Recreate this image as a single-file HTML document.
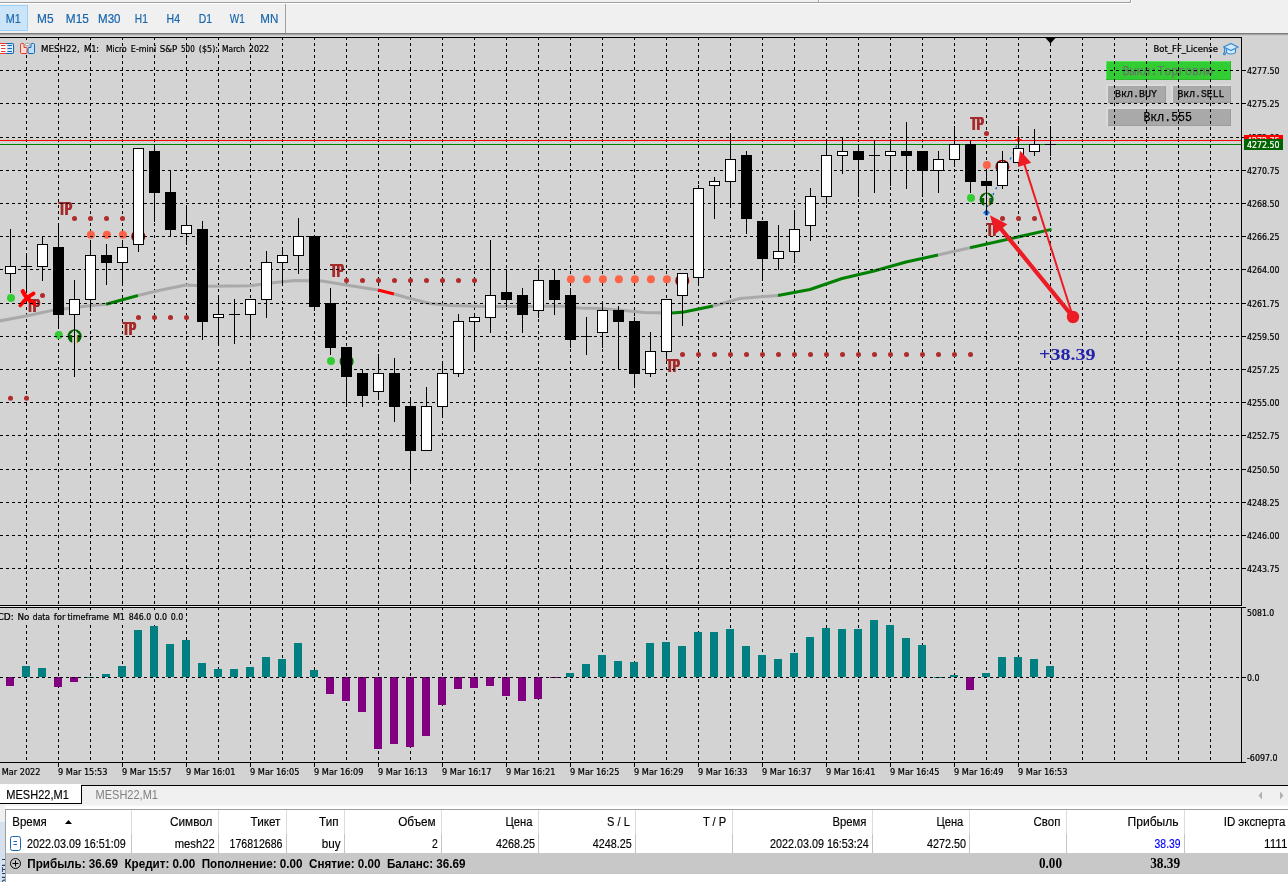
<!DOCTYPE html>
<html lang="ru">
<head>
<meta charset="utf-8">
<title>MESH22, M1</title>
<style>html,body{margin:0;padding:0;background:#fff;overflow:hidden}body{width:1288px;height:882px;font-family:"Liberation Sans",sans-serif}svg{display:block;position:absolute;left:0;top:0}</style>
</head>
<body>
<svg width="1288" height="882" viewBox="0 0 1288 882">
<defs>
<clipPath id="cm"><rect x="0" y="38" width="1241" height="567"/></clipPath>
<clipPath id="cs"><rect x="0" y="608" width="1241" height="154"/></clipPath>
<clipPath id="cl"><rect x="0" y="822" width="5" height="60"/></clipPath>
<g id="ci"><circle r="7" fill="#006400"/><path d="M0,-6.6 L5,-1.4 L2.4,-1.4 L2.4,7 L-2.4,7 L-2.4,-1.4 L-5,-1.4 Z" fill="#d3d3d3"/><path d="M2.4,-1.4 L2.4,7" stroke="#e8a33d" stroke-width="0.8" fill="none"/></g>
<g id="cr"><circle r="7" fill="#8b0000"/><path d="M0,-6.6 L5,-1.4 L2.4,-1.4 L2.4,7 L-2.4,7 L-2.4,-1.4 L-5,-1.4 Z" fill="#e8e8f0"/></g>
</defs>
<rect x="0" y="0" width="1288" height="38" fill="#f0f0f0"/>
<rect x="0" y="2" width="1131" height="1" fill="#a0a0a0"/>
<rect x="0" y="3" width="1132" height="1" fill="#ffffff"/>
<rect x="818" y="0" width="1" height="3" fill="#a0a0a0"/>
<rect x="819" y="0" width="1" height="2" fill="#ffffff"/>
<rect x="1130" y="0" width="1" height="3" fill="#a0a0a0"/>
<rect x="1131" y="0" width="1" height="3" fill="#ffffff"/>
<rect x="0" y="5" width="28" height="26" fill="#cce4f7"/>
<rect x="-0.5" y="5.5" width="28" height="25" fill="none" stroke="#99d1ff" stroke-width="1"/>
<text x="13.3" y="23.2" font-family='"Liberation Sans", sans-serif' font-size="12.7" fill="#1766ad" text-anchor="middle" textLength="15" lengthAdjust="spacingAndGlyphs" xml:space="preserve" stroke="#1766ad" stroke-width="0.2">M1</text>
<text x="45.3" y="23.2" font-family='"Liberation Sans", sans-serif' font-size="12.7" fill="#1766ad" text-anchor="middle" textLength="16.5" lengthAdjust="spacingAndGlyphs" xml:space="preserve" stroke="#1766ad" stroke-width="0.2">M5</text>
<text x="77.3" y="23.2" font-family='"Liberation Sans", sans-serif' font-size="12.7" fill="#1766ad" text-anchor="middle" textLength="23" lengthAdjust="spacingAndGlyphs" xml:space="preserve" stroke="#1766ad" stroke-width="0.2">M15</text>
<text x="109.3" y="23.2" font-family='"Liberation Sans", sans-serif' font-size="12.7" fill="#1766ad" text-anchor="middle" textLength="22.5" lengthAdjust="spacingAndGlyphs" xml:space="preserve" stroke="#1766ad" stroke-width="0.2">M30</text>
<text x="141.3" y="23.2" font-family='"Liberation Sans", sans-serif' font-size="12.7" fill="#1766ad" text-anchor="middle" textLength="13" lengthAdjust="spacingAndGlyphs" xml:space="preserve" stroke="#1766ad" stroke-width="0.2">H1</text>
<text x="173.3" y="23.2" font-family='"Liberation Sans", sans-serif' font-size="12.7" fill="#1766ad" text-anchor="middle" textLength="13.5" lengthAdjust="spacingAndGlyphs" xml:space="preserve" stroke="#1766ad" stroke-width="0.2">H4</text>
<text x="205.3" y="23.2" font-family='"Liberation Sans", sans-serif' font-size="12.7" fill="#1766ad" text-anchor="middle" textLength="13.3" lengthAdjust="spacingAndGlyphs" xml:space="preserve" stroke="#1766ad" stroke-width="0.2">D1</text>
<text x="237.3" y="23.2" font-family='"Liberation Sans", sans-serif' font-size="12.7" fill="#1766ad" text-anchor="middle" textLength="15" lengthAdjust="spacingAndGlyphs" xml:space="preserve" stroke="#1766ad" stroke-width="0.2">W1</text>
<text x="269.3" y="23.2" font-family='"Liberation Sans", sans-serif' font-size="12.7" fill="#1766ad" text-anchor="middle" textLength="18" lengthAdjust="spacingAndGlyphs" xml:space="preserve" stroke="#1766ad" stroke-width="0.2">MN</text>
<rect x="285" y="4" width="1" height="29" fill="#a0a0a0"/>
<rect x="0" y="33" width="1288" height="1" fill="#7a7a7a"/>
<rect x="0" y="34" width="1288" height="1" fill="#a8a8a8"/>
<rect x="0" y="35" width="1288" height="1" fill="#c8c8c8"/>
<rect x="0" y="36" width="1288" height="1" fill="#d8d8d8"/>
<rect x="0" y="37" width="1288" height="748" fill="#d3d3d3"/>
<g clip-path="url(#cm)">
<rect x="1106" y="61" width="125" height="19" fill="#32cd32"/>
<rect x="1106" y="61" width="125" height="1" fill="#55e055"/>
<rect x="1106" y="61" width="1" height="19" fill="#55e055"/>
<rect x="1106" y="79" width="125" height="1" fill="#2db82d"/>
<rect x="1230" y="61" width="1" height="19" fill="#2db82d"/>
<text x="1167.7" y="75.282" font-family='"Liberation Mono", monospace' font-size="12.4" fill="#667a66" text-anchor="middle" textLength="90.5" lengthAdjust="spacingAndGlyphs" xml:space="preserve" stroke="#667a66" stroke-width="0.25">Выкл:Торговлю</text>
<rect x="1106" y="84" width="60" height="19" fill="#dadada"/>
<rect x="1108" y="86" width="58" height="17" fill="#9c9c9c"/>
<rect x="1108" y="86" width="57" height="16" fill="#a9a9a9"/>
<text x="1136.0" y="96.916" font-family='"Liberation Mono", monospace' font-size="11.2" fill="#000" text-anchor="middle" textLength="42" lengthAdjust="spacingAndGlyphs" xml:space="preserve" stroke="#000" stroke-width="0.25">Вкл.BUY</text>
<rect x="1171" y="84" width="60" height="19" fill="#dadada"/>
<rect x="1173" y="86" width="58" height="17" fill="#9c9c9c"/>
<rect x="1173" y="86" width="57" height="16" fill="#a9a9a9"/>
<text x="1201.0" y="96.916" font-family='"Liberation Mono", monospace' font-size="11.2" fill="#000" text-anchor="middle" textLength="47" lengthAdjust="spacingAndGlyphs" xml:space="preserve" stroke="#000" stroke-width="0.25">Вкл.SELL</text>
<rect x="1106" y="107" width="125" height="19" fill="#dadada"/>
<rect x="1108" y="109" width="123" height="17" fill="#9c9c9c"/>
<rect x="1108" y="109" width="122" height="16" fill="#a9a9a9"/>
<text x="1167.7" y="120.826" font-family='"Liberation Mono", monospace' font-size="13.2" fill="#000" text-anchor="middle" textLength="48.5" lengthAdjust="spacingAndGlyphs" xml:space="preserve" stroke="#000" stroke-width="0.25">Вкл.555</text>
</g>
<g shape-rendering="crispEdges" stroke="#000" stroke-width="1" stroke-dasharray="3 3" fill="none">
<line x1="26.5" y1="37" x2="26.5" y2="605"/>
<line x1="26.5" y1="607" x2="26.5" y2="762"/>
<line x1="58.5" y1="37" x2="58.5" y2="605"/>
<line x1="58.5" y1="607" x2="58.5" y2="762"/>
<line x1="90.5" y1="37" x2="90.5" y2="605"/>
<line x1="90.5" y1="607" x2="90.5" y2="762"/>
<line x1="122.5" y1="37" x2="122.5" y2="605"/>
<line x1="122.5" y1="607" x2="122.5" y2="762"/>
<line x1="154.5" y1="37" x2="154.5" y2="605"/>
<line x1="154.5" y1="607" x2="154.5" y2="762"/>
<line x1="186.5" y1="37" x2="186.5" y2="605"/>
<line x1="186.5" y1="607" x2="186.5" y2="762"/>
<line x1="218.5" y1="37" x2="218.5" y2="605"/>
<line x1="218.5" y1="607" x2="218.5" y2="762"/>
<line x1="250.5" y1="37" x2="250.5" y2="605"/>
<line x1="250.5" y1="607" x2="250.5" y2="762"/>
<line x1="282.5" y1="37" x2="282.5" y2="605"/>
<line x1="282.5" y1="607" x2="282.5" y2="762"/>
<line x1="314.5" y1="37" x2="314.5" y2="605"/>
<line x1="314.5" y1="607" x2="314.5" y2="762"/>
<line x1="346.5" y1="37" x2="346.5" y2="605"/>
<line x1="346.5" y1="607" x2="346.5" y2="762"/>
<line x1="378.5" y1="37" x2="378.5" y2="605"/>
<line x1="378.5" y1="607" x2="378.5" y2="762"/>
<line x1="410.5" y1="37" x2="410.5" y2="605"/>
<line x1="410.5" y1="607" x2="410.5" y2="762"/>
<line x1="442.5" y1="37" x2="442.5" y2="605"/>
<line x1="442.5" y1="607" x2="442.5" y2="762"/>
<line x1="474.5" y1="37" x2="474.5" y2="605"/>
<line x1="474.5" y1="607" x2="474.5" y2="762"/>
<line x1="506.5" y1="37" x2="506.5" y2="605"/>
<line x1="506.5" y1="607" x2="506.5" y2="762"/>
<line x1="538.5" y1="37" x2="538.5" y2="605"/>
<line x1="538.5" y1="607" x2="538.5" y2="762"/>
<line x1="570.5" y1="37" x2="570.5" y2="605"/>
<line x1="570.5" y1="607" x2="570.5" y2="762"/>
<line x1="602.5" y1="37" x2="602.5" y2="605"/>
<line x1="602.5" y1="607" x2="602.5" y2="762"/>
<line x1="634.5" y1="37" x2="634.5" y2="605"/>
<line x1="634.5" y1="607" x2="634.5" y2="762"/>
<line x1="666.5" y1="37" x2="666.5" y2="605"/>
<line x1="666.5" y1="607" x2="666.5" y2="762"/>
<line x1="698.5" y1="37" x2="698.5" y2="605"/>
<line x1="698.5" y1="607" x2="698.5" y2="762"/>
<line x1="730.5" y1="37" x2="730.5" y2="605"/>
<line x1="730.5" y1="607" x2="730.5" y2="762"/>
<line x1="762.5" y1="37" x2="762.5" y2="605"/>
<line x1="762.5" y1="607" x2="762.5" y2="762"/>
<line x1="794.5" y1="37" x2="794.5" y2="605"/>
<line x1="794.5" y1="607" x2="794.5" y2="762"/>
<line x1="826.5" y1="37" x2="826.5" y2="605"/>
<line x1="826.5" y1="607" x2="826.5" y2="762"/>
<line x1="858.5" y1="37" x2="858.5" y2="605"/>
<line x1="858.5" y1="607" x2="858.5" y2="762"/>
<line x1="890.5" y1="37" x2="890.5" y2="605"/>
<line x1="890.5" y1="607" x2="890.5" y2="762"/>
<line x1="922.5" y1="37" x2="922.5" y2="605"/>
<line x1="922.5" y1="607" x2="922.5" y2="762"/>
<line x1="954.5" y1="37" x2="954.5" y2="605"/>
<line x1="954.5" y1="607" x2="954.5" y2="762"/>
<line x1="986.5" y1="37" x2="986.5" y2="605"/>
<line x1="986.5" y1="607" x2="986.5" y2="762"/>
<line x1="1018.5" y1="37" x2="1018.5" y2="605"/>
<line x1="1018.5" y1="607" x2="1018.5" y2="762"/>
<line x1="1050.5" y1="37" x2="1050.5" y2="605"/>
<line x1="1050.5" y1="607" x2="1050.5" y2="762"/>
<line x1="1082.5" y1="37" x2="1082.5" y2="605"/>
<line x1="1082.5" y1="607" x2="1082.5" y2="762"/>
<line x1="1114.5" y1="37" x2="1114.5" y2="605"/>
<line x1="1114.5" y1="607" x2="1114.5" y2="762"/>
<line x1="1146.5" y1="37" x2="1146.5" y2="605"/>
<line x1="1146.5" y1="607" x2="1146.5" y2="762"/>
<line x1="1178.5" y1="37" x2="1178.5" y2="605"/>
<line x1="1178.5" y1="607" x2="1178.5" y2="762"/>
<line x1="1210.5" y1="37" x2="1210.5" y2="605"/>
<line x1="1210.5" y1="607" x2="1210.5" y2="762"/>
</g>
<g clip-path="url(#cm)" fill="none" stroke-width="3" stroke-linecap="butt" stroke-linejoin="round">
<polyline points="-6,322 26,316 52.5,310.4 85,306.2 106,304.3" stroke="#a9a9a9"/>
<polyline points="106,304.3 138,295.5" stroke="#008000"/>
<polyline points="138,295.5 161,290 186,285 210,286.2 250,285.7 275,282.5 295,280.5 322,281 346,285 378,290" stroke="#a9a9a9"/>
<polyline points="378,290 394,294" stroke="#ff0000"/>
<polyline points="394,294 410,298.5 430,303.5 450,305.5 490,306.5 530,306.5 560,306 580,308 600,308.5 620,310 644,312.5 672,313" stroke="#a9a9a9"/>
<polyline points="672,313 684,312 713,306" stroke="#008000"/>
<polyline points="713,306 740,298.5 778,295.5" stroke="#a9a9a9"/>
<polyline points="778,295.5 810,289.5 842,278.5 874,271 906,262 938,255" stroke="#008000"/>
<polyline points="938,255 970,247.75" stroke="#a9a9a9"/>
<polyline points="970,247.75 1051.5,229.4" stroke="#008000"/>
</g>
<g clip-path="url(#cm)">
<circle cx="10.5" cy="398.3" r="2.5" fill="#b22a2a"/>
<circle cx="26.5" cy="398.3" r="2.5" fill="#b22a2a"/>
<circle cx="11" cy="298" r="4" fill="#32cd32"/>
<text x="26.849999999999994" y="312.4" font-family='"Liberation Sans", sans-serif' font-size="17.8" fill="#a52a2a" font-weight="bold" textLength="13.1" lengthAdjust="spacingAndGlyphs" xml:space="preserve" id="tp1">TP</text>
<use href="#tp1" x="-0.65"/><use href="#tp1" x="0.65"/>
<circle cx="42.5" cy="295.4" r="2.5" fill="#b22a2a"/>
<path d="M22.8,291.3 C25,296 29,300.500 34.2,303.7" stroke="#ff0000" stroke-width="4.3" stroke-linecap="round" fill="none"/><path d="M33.6,293.5 C29,296 24.500,300 20.3,305.5" stroke="#ff0000" stroke-width="3.7" stroke-linecap="round" fill="none"/>
<circle cx="58.8" cy="335" r="4" fill="#32cd32"/>
<use href="#ci" x="74.6" y="336.3"/>
<text x="58.849999999999994" y="214.9" font-family='"Liberation Sans", sans-serif' font-size="17.8" fill="#a52a2a" font-weight="bold" textLength="13.1" lengthAdjust="spacingAndGlyphs" xml:space="preserve" id="tp2">TP</text>
<use href="#tp2" x="-0.65"/><use href="#tp2" x="0.65"/>
<circle cx="74.5" cy="218.4" r="2.5" fill="#b22a2a"/>
<circle cx="90.5" cy="218.4" r="2.5" fill="#b22a2a"/>
<circle cx="106.5" cy="218.4" r="2.5" fill="#b22a2a"/>
<circle cx="122.5" cy="218.4" r="2.5" fill="#b22a2a"/>
<circle cx="90.9" cy="234.8" r="4" fill="#ff6347"/>
<circle cx="106.9" cy="234.8" r="4" fill="#ff6347"/>
<circle cx="122.9" cy="234.8" r="4" fill="#ff6347"/>
<use href="#cr" x="138.3" y="236.4"/>
<text x="122.85000000000002" y="334.5" font-family='"Liberation Sans", sans-serif' font-size="17.8" fill="#a52a2a" font-weight="bold" textLength="13.1" lengthAdjust="spacingAndGlyphs" xml:space="preserve" id="tp3">TP</text>
<use href="#tp3" x="-0.65"/><use href="#tp3" x="0.65"/>
<circle cx="138.5" cy="317.5" r="2.5" fill="#b22a2a"/>
<circle cx="154.5" cy="317.5" r="2.5" fill="#b22a2a"/>
<circle cx="170.5" cy="317.5" r="2.5" fill="#b22a2a"/>
<circle cx="186.5" cy="317.5" r="2.5" fill="#b22a2a"/>
<circle cx="331" cy="361" r="4" fill="#32cd32"/>
<use href="#ci" x="346.6" y="361.5"/>
<text x="330.54999999999995" y="277.0" font-family='"Liberation Sans", sans-serif' font-size="17.8" fill="#a52a2a" font-weight="bold" textLength="13.1" lengthAdjust="spacingAndGlyphs" xml:space="preserve" id="tp4">TP</text>
<use href="#tp4" x="-0.65"/><use href="#tp4" x="0.65"/>
<circle cx="346.5" cy="280.5" r="2.5" fill="#b22a2a"/>
<circle cx="362.5" cy="280.5" r="2.5" fill="#b22a2a"/>
<circle cx="378.5" cy="280.5" r="2.5" fill="#b22a2a"/>
<circle cx="394.5" cy="280.5" r="2.5" fill="#b22a2a"/>
<circle cx="410.5" cy="280.5" r="2.5" fill="#b22a2a"/>
<circle cx="426.5" cy="280.5" r="2.5" fill="#b22a2a"/>
<circle cx="442.5" cy="280.5" r="2.5" fill="#b22a2a"/>
<circle cx="458.5" cy="280.5" r="2.5" fill="#b22a2a"/>
<circle cx="474.5" cy="280.5" r="2.5" fill="#b22a2a"/>
<circle cx="570.9" cy="279.2" r="4" fill="#ff6347"/>
<circle cx="586.9" cy="279.2" r="4" fill="#ff6347"/>
<circle cx="602.9" cy="279.2" r="4" fill="#ff6347"/>
<circle cx="618.9" cy="279.2" r="4" fill="#ff6347"/>
<circle cx="634.9" cy="279.2" r="4" fill="#ff6347"/>
<circle cx="650.9" cy="279.2" r="4" fill="#ff6347"/>
<circle cx="666.9" cy="279.2" r="4" fill="#ff6347"/>
<use href="#cr" x="682.3" y="280.8"/>
<text x="666.55" y="371.5" font-family='"Liberation Sans", sans-serif' font-size="17.8" fill="#a52a2a" font-weight="bold" textLength="13.1" lengthAdjust="spacingAndGlyphs" xml:space="preserve" id="tp5">TP</text>
<use href="#tp5" x="-0.65"/><use href="#tp5" x="0.65"/>
<circle cx="682.5" cy="354.5" r="2.5" fill="#b22a2a"/>
<circle cx="698.5" cy="354.5" r="2.5" fill="#b22a2a"/>
<circle cx="714.5" cy="354.5" r="2.5" fill="#b22a2a"/>
<circle cx="730.5" cy="354.5" r="2.5" fill="#b22a2a"/>
<circle cx="746.5" cy="354.5" r="2.5" fill="#b22a2a"/>
<circle cx="762.5" cy="354.5" r="2.5" fill="#b22a2a"/>
<circle cx="778.5" cy="354.5" r="2.5" fill="#b22a2a"/>
<circle cx="794.5" cy="354.5" r="2.5" fill="#b22a2a"/>
<circle cx="810.5" cy="354.5" r="2.5" fill="#b22a2a"/>
<circle cx="826.5" cy="354.5" r="2.5" fill="#b22a2a"/>
<circle cx="842.5" cy="354.5" r="2.5" fill="#b22a2a"/>
<circle cx="858.5" cy="354.5" r="2.5" fill="#b22a2a"/>
<circle cx="874.5" cy="354.5" r="2.5" fill="#b22a2a"/>
<circle cx="890.5" cy="354.5" r="2.5" fill="#b22a2a"/>
<circle cx="906.5" cy="354.5" r="2.5" fill="#b22a2a"/>
<circle cx="922.5" cy="354.5" r="2.5" fill="#b22a2a"/>
<circle cx="938.5" cy="354.5" r="2.5" fill="#b22a2a"/>
<circle cx="954.5" cy="354.5" r="2.5" fill="#b22a2a"/>
<circle cx="970.5" cy="354.5" r="2.5" fill="#b22a2a"/>
<circle cx="971" cy="198" r="4" fill="#32cd32"/>
<use href="#ci" x="986.6" y="199.4"/>
<text x="970.55" y="130.0" font-family='"Liberation Sans", sans-serif' font-size="17.8" fill="#a52a2a" font-weight="bold" textLength="13.1" lengthAdjust="spacingAndGlyphs" xml:space="preserve" id="tp6">TP</text>
<use href="#tp6" x="-0.65"/><use href="#tp6" x="0.65"/>
<circle cx="986.5" cy="133.5" r="2.5" fill="#b22a2a"/>
<circle cx="986.9" cy="165" r="4" fill="#ff6347"/>
<use href="#cr" x="1002.4" y="166.8"/>
<text x="986.55" y="235.5" font-family='"Liberation Sans", sans-serif' font-size="17.8" fill="#a52a2a" font-weight="bold" textLength="13.1" lengthAdjust="spacingAndGlyphs" xml:space="preserve" id="tp7">TP</text>
<use href="#tp7" x="-0.65"/><use href="#tp7" x="0.65"/>
<circle cx="1002.5" cy="218.5" r="2.5" fill="#b22a2a"/>
<circle cx="1018.5" cy="218.5" r="2.5" fill="#b22a2a"/>
<circle cx="1034.5" cy="218.5" r="2.5" fill="#b22a2a"/>
<text x="1039" y="360.4" font-family='"Liberation Serif", serif' font-size="17" fill="#2222aa" font-weight="bold" textLength="56.5" lengthAdjust="spacingAndGlyphs" xml:space="preserve">+38.39</text>
</g>
<g shape-rendering="crispEdges" stroke="#000" stroke-width="1" stroke-dasharray="3 3" fill="none">
<line x1="0" y1="70.5" x2="1241" y2="70.5"/>
<line x1="0" y1="103.5" x2="1241" y2="103.5"/>
<line x1="0" y1="137.5" x2="1241" y2="137.5"/>
<line x1="0" y1="170.5" x2="1241" y2="170.5"/>
<line x1="0" y1="203.5" x2="1241" y2="203.5"/>
<line x1="0" y1="236.5" x2="1241" y2="236.5"/>
<line x1="0" y1="269.5" x2="1241" y2="269.5"/>
<line x1="0" y1="303.5" x2="1241" y2="303.5"/>
<line x1="0" y1="336.5" x2="1241" y2="336.5"/>
<line x1="0" y1="369.5" x2="1241" y2="369.5"/>
<line x1="0" y1="402.5" x2="1241" y2="402.5"/>
<line x1="0" y1="435.5" x2="1241" y2="435.5"/>
<line x1="0" y1="469.5" x2="1241" y2="469.5"/>
<line x1="0" y1="502.5" x2="1241" y2="502.5"/>
<line x1="0" y1="535.5" x2="1241" y2="535.5"/>
<line x1="0" y1="568.5" x2="1241" y2="568.5"/>
<line x1="0" y1="677.5" x2="1241" y2="677.5"/>
</g>
<path d="M985,211.5 L1017,145" stroke="#0a64c8" stroke-width="1.3" stroke-dasharray="2.2 4.4" stroke-dashoffset="1.6" fill="none"/>
<path d="M986.5,209.3 L990.6,213.4 L988.3,213.4 L988.3,215.6 L984.7,215.6 L984.7,213.4 L982.4,213.4 Z" fill="#0a5fc8" stroke="#fff" stroke-width="1" paint-order="stroke"/>
<path d="M1018.5,143 L1014.5,139 L1017,139 L1017,137 L1020,137 L1020,139 L1022.5,139 Z" fill="#ff2a00" stroke="#fff" stroke-width="1.2" paint-order="stroke"/>
<rect x="0" y="140" width="1241" height="1" fill="#ff0000"/>
<rect x="0" y="144" width="1241" height="1" fill="#008000"/>
<g clip-path="url(#cm)" shape-rendering="crispEdges">
<rect x="10" y="229" width="1" height="64" fill="#000"/>
<rect x="5" y="266" width="11" height="8" fill="#000"/>
<rect x="6" y="267" width="9" height="6" fill="#fff"/>
<rect x="26" y="255" width="1" height="38" fill="#000"/>
<rect x="21" y="266" width="11" height="1" fill="#000"/>
<rect x="42" y="236" width="1" height="45" fill="#000"/>
<rect x="37" y="244" width="11" height="23" fill="#000"/>
<rect x="38" y="245" width="9" height="21" fill="#fff"/>
<rect x="58" y="225" width="1" height="104" fill="#000"/>
<rect x="53" y="247" width="11" height="68" fill="#000"/>
<rect x="74" y="280" width="1" height="97" fill="#000"/>
<rect x="69" y="299" width="11" height="16" fill="#000"/>
<rect x="70" y="300" width="9" height="14" fill="#fff"/>
<rect x="90" y="240" width="1" height="71" fill="#000"/>
<rect x="85" y="255" width="11" height="45" fill="#000"/>
<rect x="86" y="256" width="9" height="43" fill="#fff"/>
<rect x="106" y="244" width="1" height="41" fill="#000"/>
<rect x="101" y="255" width="11" height="8" fill="#000"/>
<rect x="122" y="240" width="1" height="45" fill="#000"/>
<rect x="117" y="247" width="11" height="16" fill="#000"/>
<rect x="118" y="248" width="9" height="14" fill="#fff"/>
<rect x="138" y="148" width="1" height="104" fill="#000"/>
<rect x="133" y="148" width="11" height="97" fill="#000"/>
<rect x="134" y="149" width="9" height="95" fill="#fff"/>
<rect x="154" y="144" width="1" height="78" fill="#000"/>
<rect x="149" y="151" width="11" height="42" fill="#000"/>
<rect x="170" y="170" width="1" height="67" fill="#000"/>
<rect x="165" y="192" width="11" height="38" fill="#000"/>
<rect x="186" y="207" width="1" height="38" fill="#000"/>
<rect x="181" y="225" width="11" height="9" fill="#000"/>
<rect x="182" y="226" width="9" height="7" fill="#fff"/>
<rect x="202" y="221" width="1" height="119" fill="#000"/>
<rect x="197" y="229" width="11" height="93" fill="#000"/>
<rect x="218" y="295" width="1" height="49" fill="#000"/>
<rect x="213" y="314" width="11" height="4" fill="#000"/>
<rect x="214" y="315" width="9" height="2" fill="#fff"/>
<rect x="234" y="299" width="1" height="45" fill="#000"/>
<rect x="229" y="314" width="11" height="1" fill="#000"/>
<rect x="250" y="299" width="1" height="41" fill="#000"/>
<rect x="245" y="299" width="11" height="16" fill="#000"/>
<rect x="246" y="300" width="9" height="14" fill="#fff"/>
<rect x="266" y="251" width="1" height="67" fill="#000"/>
<rect x="261" y="262" width="11" height="38" fill="#000"/>
<rect x="262" y="263" width="9" height="36" fill="#fff"/>
<rect x="282" y="247" width="1" height="38" fill="#000"/>
<rect x="277" y="255" width="11" height="8" fill="#000"/>
<rect x="278" y="256" width="9" height="6" fill="#fff"/>
<rect x="298" y="218" width="1" height="56" fill="#000"/>
<rect x="293" y="236" width="11" height="20" fill="#000"/>
<rect x="294" y="237" width="9" height="18" fill="#fff"/>
<rect x="314" y="236" width="1" height="75" fill="#000"/>
<rect x="309" y="236" width="11" height="71" fill="#000"/>
<rect x="330" y="288" width="1" height="67" fill="#000"/>
<rect x="325" y="303" width="11" height="45" fill="#000"/>
<rect x="346" y="347" width="1" height="60" fill="#000"/>
<rect x="341" y="347" width="11" height="30" fill="#000"/>
<rect x="362" y="369" width="1" height="38" fill="#000"/>
<rect x="357" y="373" width="11" height="23" fill="#000"/>
<rect x="378" y="354" width="1" height="46" fill="#000"/>
<rect x="373" y="373" width="11" height="19" fill="#000"/>
<rect x="374" y="374" width="9" height="17" fill="#fff"/>
<rect x="394" y="358" width="1" height="64" fill="#000"/>
<rect x="389" y="373" width="11" height="34" fill="#000"/>
<rect x="410" y="399" width="1" height="85" fill="#000"/>
<rect x="405" y="406" width="11" height="45" fill="#000"/>
<rect x="426" y="387" width="1" height="64" fill="#000"/>
<rect x="421" y="406" width="11" height="45" fill="#000"/>
<rect x="422" y="407" width="9" height="43" fill="#fff"/>
<rect x="442" y="362" width="1" height="56" fill="#000"/>
<rect x="437" y="373" width="11" height="34" fill="#000"/>
<rect x="438" y="374" width="9" height="32" fill="#fff"/>
<rect x="458" y="314" width="1" height="63" fill="#000"/>
<rect x="453" y="321" width="11" height="53" fill="#000"/>
<rect x="454" y="322" width="9" height="51" fill="#fff"/>
<rect x="474" y="314" width="1" height="38" fill="#000"/>
<rect x="469" y="317" width="11" height="5" fill="#000"/>
<rect x="470" y="318" width="9" height="3" fill="#fff"/>
<rect x="490" y="240" width="1" height="93" fill="#000"/>
<rect x="485" y="295" width="11" height="23" fill="#000"/>
<rect x="486" y="296" width="9" height="21" fill="#fff"/>
<rect x="506" y="269" width="1" height="38" fill="#000"/>
<rect x="501" y="292" width="11" height="8" fill="#000"/>
<rect x="522" y="288" width="1" height="45" fill="#000"/>
<rect x="517" y="295" width="11" height="20" fill="#000"/>
<rect x="538" y="269" width="1" height="49" fill="#000"/>
<rect x="533" y="280" width="11" height="31" fill="#000"/>
<rect x="534" y="281" width="9" height="29" fill="#fff"/>
<rect x="554" y="269" width="1" height="46" fill="#000"/>
<rect x="549" y="280" width="11" height="20" fill="#000"/>
<rect x="570" y="288" width="1" height="60" fill="#000"/>
<rect x="565" y="295" width="11" height="45" fill="#000"/>
<rect x="586" y="317" width="1" height="38" fill="#000"/>
<rect x="581" y="336" width="11" height="1" fill="#000"/>
<rect x="602" y="303" width="1" height="45" fill="#000"/>
<rect x="597" y="310" width="11" height="23" fill="#000"/>
<rect x="598" y="311" width="9" height="21" fill="#fff"/>
<rect x="618" y="306" width="1" height="64" fill="#000"/>
<rect x="613" y="310" width="11" height="12" fill="#000"/>
<rect x="634" y="317" width="1" height="71" fill="#000"/>
<rect x="629" y="321" width="11" height="53" fill="#000"/>
<rect x="650" y="332" width="1" height="45" fill="#000"/>
<rect x="645" y="351" width="11" height="23" fill="#000"/>
<rect x="646" y="352" width="9" height="21" fill="#fff"/>
<rect x="666" y="299" width="1" height="60" fill="#000"/>
<rect x="661" y="299" width="11" height="53" fill="#000"/>
<rect x="662" y="300" width="9" height="51" fill="#fff"/>
<rect x="682" y="273" width="1" height="53" fill="#000"/>
<rect x="677" y="273" width="11" height="23" fill="#000"/>
<rect x="678" y="274" width="9" height="21" fill="#fff"/>
<rect x="698" y="185" width="1" height="100" fill="#000"/>
<rect x="693" y="188" width="11" height="90" fill="#000"/>
<rect x="694" y="189" width="9" height="88" fill="#fff"/>
<rect x="714" y="177" width="1" height="42" fill="#000"/>
<rect x="709" y="181" width="11" height="5" fill="#000"/>
<rect x="710" y="182" width="9" height="3" fill="#fff"/>
<rect x="730" y="133" width="1" height="75" fill="#000"/>
<rect x="725" y="159" width="11" height="23" fill="#000"/>
<rect x="726" y="160" width="9" height="21" fill="#fff"/>
<rect x="746" y="151" width="1" height="83" fill="#000"/>
<rect x="741" y="155" width="11" height="64" fill="#000"/>
<rect x="762" y="221" width="1" height="60" fill="#000"/>
<rect x="757" y="221" width="11" height="38" fill="#000"/>
<rect x="778" y="225" width="1" height="45" fill="#000"/>
<rect x="773" y="251" width="11" height="8" fill="#000"/>
<rect x="774" y="252" width="9" height="6" fill="#fff"/>
<rect x="794" y="210" width="1" height="53" fill="#000"/>
<rect x="789" y="229" width="11" height="23" fill="#000"/>
<rect x="790" y="230" width="9" height="21" fill="#fff"/>
<rect x="810" y="188" width="1" height="53" fill="#000"/>
<rect x="805" y="196" width="11" height="30" fill="#000"/>
<rect x="806" y="197" width="9" height="28" fill="#fff"/>
<rect x="826" y="140" width="1" height="64" fill="#000"/>
<rect x="821" y="155" width="11" height="42" fill="#000"/>
<rect x="822" y="156" width="9" height="40" fill="#fff"/>
<rect x="842" y="137" width="1" height="37" fill="#000"/>
<rect x="837" y="151" width="11" height="5" fill="#000"/>
<rect x="838" y="152" width="9" height="3" fill="#fff"/>
<rect x="858" y="144" width="1" height="53" fill="#000"/>
<rect x="853" y="151" width="11" height="9" fill="#000"/>
<rect x="874" y="140" width="1" height="53" fill="#000"/>
<rect x="869" y="155" width="11" height="1" fill="#000"/>
<rect x="890" y="140" width="1" height="46" fill="#000"/>
<rect x="885" y="151" width="11" height="5" fill="#000"/>
<rect x="886" y="152" width="9" height="3" fill="#fff"/>
<rect x="906" y="122" width="1" height="67" fill="#000"/>
<rect x="901" y="151" width="11" height="5" fill="#000"/>
<rect x="922" y="151" width="1" height="46" fill="#000"/>
<rect x="917" y="151" width="11" height="20" fill="#000"/>
<rect x="938" y="151" width="1" height="42" fill="#000"/>
<rect x="933" y="159" width="11" height="12" fill="#000"/>
<rect x="934" y="160" width="9" height="10" fill="#fff"/>
<rect x="954" y="126" width="1" height="41" fill="#000"/>
<rect x="949" y="144" width="11" height="16" fill="#000"/>
<rect x="950" y="145" width="9" height="14" fill="#fff"/>
<rect x="970" y="140" width="1" height="53" fill="#000"/>
<rect x="965" y="144" width="11" height="38" fill="#000"/>
<rect x="986" y="170" width="1" height="45" fill="#000"/>
<rect x="981" y="181" width="11" height="5" fill="#000"/>
<rect x="1002" y="151" width="1" height="38" fill="#000"/>
<rect x="997" y="162" width="11" height="24" fill="#000"/>
<rect x="998" y="163" width="9" height="22" fill="#fff"/>
<rect x="1018" y="126" width="1" height="37" fill="#000"/>
<rect x="1013" y="148" width="11" height="15" fill="#000"/>
<rect x="1014" y="149" width="9" height="13" fill="#fff"/>
<rect x="1034" y="129" width="1" height="27" fill="#000"/>
<rect x="1029" y="144" width="11" height="8" fill="#000"/>
<rect x="1030" y="145" width="9" height="6" fill="#fff"/>
<rect x="1050" y="126" width="1" height="30" fill="#000"/>
<rect x="1045" y="144" width="11" height="1" fill="#000"/>
</g>
<g shape-rendering="crispEdges">
<rect x="6" y="677" width="8" height="9" fill="#800080"/>
<rect x="22" y="666" width="8" height="11" fill="#008080"/>
<rect x="38" y="668" width="8" height="9" fill="#008080"/>
<rect x="54" y="677" width="8" height="10" fill="#800080"/>
<rect x="70" y="677" width="8" height="5" fill="#800080"/>
<rect x="86" y="677" width="8" height="1" fill="#008080"/>
<rect x="102" y="674" width="8" height="3" fill="#008080"/>
<rect x="118" y="666" width="8" height="11" fill="#008080"/>
<rect x="134" y="630" width="8" height="47" fill="#008080"/>
<rect x="150" y="626" width="8" height="51" fill="#008080"/>
<rect x="166" y="644" width="8" height="33" fill="#008080"/>
<rect x="182" y="640" width="8" height="37" fill="#008080"/>
<rect x="198" y="663" width="8" height="14" fill="#008080"/>
<rect x="214" y="669" width="8" height="8" fill="#008080"/>
<rect x="230" y="669" width="8" height="8" fill="#008080"/>
<rect x="246" y="667" width="8" height="10" fill="#008080"/>
<rect x="262" y="657" width="8" height="20" fill="#008080"/>
<rect x="278" y="659" width="8" height="18" fill="#008080"/>
<rect x="294" y="643" width="8" height="34" fill="#008080"/>
<rect x="310" y="670" width="8" height="7" fill="#008080"/>
<rect x="326" y="677" width="8" height="17" fill="#800080"/>
<rect x="342" y="677" width="8" height="24" fill="#800080"/>
<rect x="358" y="677" width="8" height="35" fill="#800080"/>
<rect x="374" y="677" width="8" height="72" fill="#800080"/>
<rect x="390" y="677" width="8" height="67" fill="#800080"/>
<rect x="406" y="677" width="8" height="70" fill="#800080"/>
<rect x="422" y="677" width="8" height="59" fill="#800080"/>
<rect x="438" y="677" width="8" height="28" fill="#800080"/>
<rect x="454" y="677" width="8" height="12" fill="#800080"/>
<rect x="470" y="677" width="8" height="11" fill="#800080"/>
<rect x="486" y="677" width="8" height="9" fill="#800080"/>
<rect x="502" y="677" width="8" height="19" fill="#800080"/>
<rect x="518" y="677" width="8" height="24" fill="#800080"/>
<rect x="534" y="677" width="8" height="22" fill="#800080"/>
<rect x="550" y="677" width="8" height="1" fill="#800080"/>
<rect x="566" y="673" width="8" height="4" fill="#008080"/>
<rect x="582" y="664" width="8" height="13" fill="#008080"/>
<rect x="598" y="655" width="8" height="22" fill="#008080"/>
<rect x="614" y="661" width="8" height="16" fill="#008080"/>
<rect x="630" y="662" width="8" height="15" fill="#008080"/>
<rect x="646" y="643" width="8" height="34" fill="#008080"/>
<rect x="662" y="642" width="8" height="35" fill="#008080"/>
<rect x="678" y="646" width="8" height="31" fill="#008080"/>
<rect x="694" y="632" width="8" height="45" fill="#008080"/>
<rect x="710" y="632" width="8" height="45" fill="#008080"/>
<rect x="726" y="629" width="8" height="48" fill="#008080"/>
<rect x="742" y="646" width="8" height="31" fill="#008080"/>
<rect x="758" y="655" width="8" height="22" fill="#008080"/>
<rect x="774" y="659" width="8" height="18" fill="#008080"/>
<rect x="790" y="653" width="8" height="24" fill="#008080"/>
<rect x="806" y="637" width="8" height="40" fill="#008080"/>
<rect x="822" y="628" width="8" height="49" fill="#008080"/>
<rect x="838" y="629" width="8" height="48" fill="#008080"/>
<rect x="854" y="629" width="8" height="48" fill="#008080"/>
<rect x="870" y="620" width="8" height="57" fill="#008080"/>
<rect x="886" y="625" width="8" height="52" fill="#008080"/>
<rect x="902" y="638" width="8" height="39" fill="#008080"/>
<rect x="918" y="645" width="8" height="32" fill="#008080"/>
<rect x="934" y="677" width="8" height="1" fill="#008080"/>
<rect x="950" y="675" width="8" height="2" fill="#008080"/>
<rect x="966" y="677" width="8" height="13" fill="#800080"/>
<rect x="982" y="673" width="8" height="4" fill="#008080"/>
<rect x="998" y="657" width="8" height="20" fill="#008080"/>
<rect x="1014" y="657" width="8" height="20" fill="#008080"/>
<rect x="1030" y="659" width="8" height="18" fill="#008080"/>
<rect x="1046" y="666" width="8" height="11" fill="#008080"/>
</g>
<g shape-rendering="crispEdges" stroke="#000" stroke-width="1" stroke-dasharray="3 3" fill="none"><line x1="0" y1="677.5" x2="1241" y2="677.5"/></g>
<rect x="0" y="37" width="1242" height="1" fill="#000"/>
<rect x="0" y="605" width="1242" height="1" fill="#000"/>
<rect x="0" y="606" width="1242" height="1" fill="#e4e4e4"/>
<rect x="0" y="607" width="1246" height="1" fill="#000"/>
<rect x="0" y="762" width="1246" height="1" fill="#000"/>
<rect x="1241" y="37" width="1" height="569" fill="#000"/>
<rect x="1241" y="607" width="1" height="156" fill="#000"/>
<path d="M1045.5,38 L1055.5,38 L1050.5,43.5 Z" fill="#000"/>
<rect x="0" y="42" width="37" height="13" fill="#d3d3d3"/>
<g><rect x="-3.5" y="43.5" width="17" height="10" rx="1.5" fill="#fff" stroke="#1667b4" stroke-width="1.2"/><path d="M6,43.5 H-3 M6,53.5 H-3" fill="none" stroke="#e03c31" stroke-width="1.2"/><rect x="6.500" y="44" width="5.500" height="9" fill="#cfe6fa"/><path d="M1,45.5 H5.500 M1,48.5 H5.500 M1,51.5 H5.500" stroke="#e03c31" stroke-width="1.1"/><path d="M7.500,45.5 H12 M7.500,48.5 H12 M7.500,51.5 H12" stroke="#1667b4" stroke-width="1.1"/></g>
<g><path d="M20.5,44.5 a1,1 0 0 1 1,-1 h1.5 a1,1 0 0 1 1,1 v3 h2 a1,1 0 0 1 1,1 v4 a1,1 0 0 1 -1,1 h-4.500 a1,1 0 0 1 -1,-1 Z" fill="#fcd9d3" stroke="#e03c31" stroke-width="1"/><path d="M34.500,44.5 a1,1 0 0 0 -1,-1 h-1.5 a1,1 0 0 0 -1,1 v3 h-2 a1,1 0 0 0 -1,1 v4 a1,1 0 0 0 1,1 h4.500 a1,1 0 0 0 1,-1 Z" fill="#bfe0fa" stroke="#1667b4" stroke-width="1"/><rect x="25.500" y="43.500" width="4.200" height="2.200" rx="1.1" fill="#fff" stroke="#9a9a9a" stroke-width="1"/></g>
<text y="52" font-family='"DejaVu Sans Condensed", "Liberation Sans", sans-serif' font-size="9.33" fill="#000" stroke="#000" stroke-width="0.22"><tspan x="41" textLength="38.8" lengthAdjust="spacingAndGlyphs">MESH22,</tspan> <tspan x="84.1" textLength="15.0" lengthAdjust="spacingAndGlyphs">M1:</tspan>  <tspan x="106" textLength="20.6" lengthAdjust="spacingAndGlyphs">Micro</tspan> <tspan x="130.8" textLength="25.4" lengthAdjust="spacingAndGlyphs">E-mini</tspan> <tspan x="159.8" textLength="17.5" lengthAdjust="spacingAndGlyphs">S&amp;P</tspan> <tspan x="181" textLength="13.8" lengthAdjust="spacingAndGlyphs">500</tspan> <tspan x="198.8" textLength="19.2" lengthAdjust="spacingAndGlyphs">($5):</tspan> <tspan x="222" textLength="23" lengthAdjust="spacingAndGlyphs">March</tspan> <tspan x="248.8" textLength="20.4" lengthAdjust="spacingAndGlyphs">2022</tspan></text>
<text x="1153.5" y="52" font-family='"DejaVu Sans Condensed", "Liberation Sans", sans-serif' font-size="9.33" fill="#000" textLength="64.5" lengthAdjust="spacingAndGlyphs" xml:space="preserve" stroke="#000" stroke-width="0.22">Bot_FF_License</text>
<g fill="#cfe8fb" stroke="#2f86d0" stroke-width="1.1" stroke-linejoin="round"><path d="M1226.5,49 V52.500 C1228,54.500 1234,54.500 1235.500,52.500 V49"/><path d="M1223.500,47 L1231,43.500 L1238,47 L1231,50.500 Z"/><path d="M1224.500,47.500 V53" fill="none"/><circle cx="1224.500" cy="53.800" r="1" /></g>
<rect x="1242" y="70" width="4" height="1" fill="#000"/>
<text x="1247" y="74" font-family='"DejaVu Sans Condensed", "Liberation Sans", sans-serif' font-size="9.33" fill="#000" textLength="32.6" lengthAdjust="spacingAndGlyphs" xml:space="preserve" stroke="#000" stroke-width="0.22">4277.50</text>
<rect x="1242" y="103" width="4" height="1" fill="#000"/>
<text x="1247" y="107" font-family='"DejaVu Sans Condensed", "Liberation Sans", sans-serif' font-size="9.33" fill="#000" textLength="32.6" lengthAdjust="spacingAndGlyphs" xml:space="preserve" stroke="#000" stroke-width="0.22">4275.25</text>
<rect x="1242" y="137" width="4" height="1" fill="#000"/>
<text x="1247" y="141" font-family='"DejaVu Sans Condensed", "Liberation Sans", sans-serif' font-size="9.33" fill="#000" textLength="32.6" lengthAdjust="spacingAndGlyphs" xml:space="preserve" stroke="#000" stroke-width="0.22">4273.00</text>
<rect x="1242" y="170" width="4" height="1" fill="#000"/>
<text x="1247" y="174" font-family='"DejaVu Sans Condensed", "Liberation Sans", sans-serif' font-size="9.33" fill="#000" textLength="32.6" lengthAdjust="spacingAndGlyphs" xml:space="preserve" stroke="#000" stroke-width="0.22">4270.75</text>
<rect x="1242" y="203" width="4" height="1" fill="#000"/>
<text x="1247" y="207" font-family='"DejaVu Sans Condensed", "Liberation Sans", sans-serif' font-size="9.33" fill="#000" textLength="32.6" lengthAdjust="spacingAndGlyphs" xml:space="preserve" stroke="#000" stroke-width="0.22">4268.50</text>
<rect x="1242" y="236" width="4" height="1" fill="#000"/>
<text x="1247" y="240" font-family='"DejaVu Sans Condensed", "Liberation Sans", sans-serif' font-size="9.33" fill="#000" textLength="32.6" lengthAdjust="spacingAndGlyphs" xml:space="preserve" stroke="#000" stroke-width="0.22">4266.25</text>
<rect x="1242" y="269" width="4" height="1" fill="#000"/>
<text x="1247" y="273" font-family='"DejaVu Sans Condensed", "Liberation Sans", sans-serif' font-size="9.33" fill="#000" textLength="32.6" lengthAdjust="spacingAndGlyphs" xml:space="preserve" stroke="#000" stroke-width="0.22">4264.00</text>
<rect x="1242" y="303" width="4" height="1" fill="#000"/>
<text x="1247" y="307" font-family='"DejaVu Sans Condensed", "Liberation Sans", sans-serif' font-size="9.33" fill="#000" textLength="32.6" lengthAdjust="spacingAndGlyphs" xml:space="preserve" stroke="#000" stroke-width="0.22">4261.75</text>
<rect x="1242" y="336" width="4" height="1" fill="#000"/>
<text x="1247" y="340" font-family='"DejaVu Sans Condensed", "Liberation Sans", sans-serif' font-size="9.33" fill="#000" textLength="32.6" lengthAdjust="spacingAndGlyphs" xml:space="preserve" stroke="#000" stroke-width="0.22">4259.50</text>
<rect x="1242" y="369" width="4" height="1" fill="#000"/>
<text x="1247" y="373" font-family='"DejaVu Sans Condensed", "Liberation Sans", sans-serif' font-size="9.33" fill="#000" textLength="32.6" lengthAdjust="spacingAndGlyphs" xml:space="preserve" stroke="#000" stroke-width="0.22">4257.25</text>
<rect x="1242" y="402" width="4" height="1" fill="#000"/>
<text x="1247" y="406" font-family='"DejaVu Sans Condensed", "Liberation Sans", sans-serif' font-size="9.33" fill="#000" textLength="32.6" lengthAdjust="spacingAndGlyphs" xml:space="preserve" stroke="#000" stroke-width="0.22">4255.00</text>
<rect x="1242" y="435" width="4" height="1" fill="#000"/>
<text x="1247" y="439" font-family='"DejaVu Sans Condensed", "Liberation Sans", sans-serif' font-size="9.33" fill="#000" textLength="32.6" lengthAdjust="spacingAndGlyphs" xml:space="preserve" stroke="#000" stroke-width="0.22">4252.75</text>
<rect x="1242" y="469" width="4" height="1" fill="#000"/>
<text x="1247" y="473" font-family='"DejaVu Sans Condensed", "Liberation Sans", sans-serif' font-size="9.33" fill="#000" textLength="32.6" lengthAdjust="spacingAndGlyphs" xml:space="preserve" stroke="#000" stroke-width="0.22">4250.50</text>
<rect x="1242" y="502" width="4" height="1" fill="#000"/>
<text x="1247" y="506" font-family='"DejaVu Sans Condensed", "Liberation Sans", sans-serif' font-size="9.33" fill="#000" textLength="32.6" lengthAdjust="spacingAndGlyphs" xml:space="preserve" stroke="#000" stroke-width="0.22">4248.25</text>
<rect x="1242" y="535" width="4" height="1" fill="#000"/>
<text x="1247" y="539" font-family='"DejaVu Sans Condensed", "Liberation Sans", sans-serif' font-size="9.33" fill="#000" textLength="32.6" lengthAdjust="spacingAndGlyphs" xml:space="preserve" stroke="#000" stroke-width="0.22">4246.00</text>
<rect x="1242" y="568" width="4" height="1" fill="#000"/>
<text x="1247" y="572" font-family='"DejaVu Sans Condensed", "Liberation Sans", sans-serif' font-size="9.33" fill="#000" textLength="32.6" lengthAdjust="spacingAndGlyphs" xml:space="preserve" stroke="#000" stroke-width="0.22">4243.75</text>
<rect x="1244" y="135" width="39" height="11" fill="#ff0000"/>
<text x="1247" y="144" font-family='"DejaVu Sans Condensed", "Liberation Sans", sans-serif' font-size="9.33" fill="#fff" textLength="32.6" lengthAdjust="spacingAndGlyphs" xml:space="preserve" stroke="#fff" stroke-width="0.22">4272.75</text>
<rect x="1244" y="139" width="39" height="11" fill="#006400"/>
<text x="1247" y="148" font-family='"DejaVu Sans Condensed", "Liberation Sans", sans-serif' font-size="9.33" fill="#fff" textLength="32.6" lengthAdjust="spacingAndGlyphs" xml:space="preserve" stroke="#fff" stroke-width="0.22">4272.50</text>
<rect x="0" y="610" width="186" height="14" fill="#d3d3d3"/>
<text y="620" font-family='"DejaVu Sans Condensed", "Liberation Sans", sans-serif' font-size="9.33" fill="#000" stroke="#000" stroke-width="0.22"><tspan x="-16.4" textLength="30.1" lengthAdjust="spacingAndGlyphs">MACD:</tspan> <tspan x="17.5" textLength="11.9" lengthAdjust="spacingAndGlyphs">No</tspan> <tspan x="32.8" textLength="17.2" lengthAdjust="spacingAndGlyphs">data</tspan> <tspan x="53.8" textLength="11.8" lengthAdjust="spacingAndGlyphs">for</tspan> <tspan x="67.5" textLength="41.5" lengthAdjust="spacingAndGlyphs">timeframe</tspan> <tspan x="112.9" textLength="12.1" lengthAdjust="spacingAndGlyphs">M1</tspan> <tspan x="128.8" textLength="22.4" lengthAdjust="spacingAndGlyphs">846.0</tspan> <tspan x="154.5" textLength="12.5" lengthAdjust="spacingAndGlyphs">0.0</tspan> <tspan x="170.7" textLength="12.6" lengthAdjust="spacingAndGlyphs">0.0</tspan></text>
<rect x="1242" y="677" width="4" height="1" fill="#000"/>
<text x="1247" y="616" font-family='"DejaVu Sans Condensed", "Liberation Sans", sans-serif' font-size="9.33" fill="#000" textLength="27.3" lengthAdjust="spacingAndGlyphs" xml:space="preserve" stroke="#000" stroke-width="0.22">5081.0</text>
<text x="1247" y="681" font-family='"DejaVu Sans Condensed", "Liberation Sans", sans-serif' font-size="9.33" fill="#000" textLength="12.5" lengthAdjust="spacingAndGlyphs" xml:space="preserve" stroke="#000" stroke-width="0.22">0.0</text>
<text x="1247" y="761" font-family='"DejaVu Sans Condensed", "Liberation Sans", sans-serif' font-size="9.33" fill="#000" textLength="30.5" lengthAdjust="spacingAndGlyphs" xml:space="preserve" stroke="#000" stroke-width="0.22">-6097.0</text>
<rect x="-6" y="762" width="1" height="5" fill="#000"/>
<text x="-6" y="775" font-family='"DejaVu Sans Condensed", "Liberation Sans", sans-serif' font-size="9.33" fill="#000" textLength="46.5" lengthAdjust="spacingAndGlyphs" xml:space="preserve" stroke="#000" stroke-width="0.22">9 Mar 2022</text>
<rect x="58" y="762" width="1" height="5" fill="#000"/>
<text x="58" y="775" font-family='"DejaVu Sans Condensed", "Liberation Sans", sans-serif' font-size="9.33" fill="#000" textLength="49.5" lengthAdjust="spacingAndGlyphs" xml:space="preserve" stroke="#000" stroke-width="0.22">9 Mar 15:53</text>
<rect x="122" y="762" width="1" height="5" fill="#000"/>
<text x="122" y="775" font-family='"DejaVu Sans Condensed", "Liberation Sans", sans-serif' font-size="9.33" fill="#000" textLength="49.5" lengthAdjust="spacingAndGlyphs" xml:space="preserve" stroke="#000" stroke-width="0.22">9 Mar 15:57</text>
<rect x="186" y="762" width="1" height="5" fill="#000"/>
<text x="186" y="775" font-family='"DejaVu Sans Condensed", "Liberation Sans", sans-serif' font-size="9.33" fill="#000" textLength="49.5" lengthAdjust="spacingAndGlyphs" xml:space="preserve" stroke="#000" stroke-width="0.22">9 Mar 16:01</text>
<rect x="250" y="762" width="1" height="5" fill="#000"/>
<text x="250" y="775" font-family='"DejaVu Sans Condensed", "Liberation Sans", sans-serif' font-size="9.33" fill="#000" textLength="49.5" lengthAdjust="spacingAndGlyphs" xml:space="preserve" stroke="#000" stroke-width="0.22">9 Mar 16:05</text>
<rect x="314" y="762" width="1" height="5" fill="#000"/>
<text x="314" y="775" font-family='"DejaVu Sans Condensed", "Liberation Sans", sans-serif' font-size="9.33" fill="#000" textLength="49.5" lengthAdjust="spacingAndGlyphs" xml:space="preserve" stroke="#000" stroke-width="0.22">9 Mar 16:09</text>
<rect x="378" y="762" width="1" height="5" fill="#000"/>
<text x="378" y="775" font-family='"DejaVu Sans Condensed", "Liberation Sans", sans-serif' font-size="9.33" fill="#000" textLength="49.5" lengthAdjust="spacingAndGlyphs" xml:space="preserve" stroke="#000" stroke-width="0.22">9 Mar 16:13</text>
<rect x="442" y="762" width="1" height="5" fill="#000"/>
<text x="442" y="775" font-family='"DejaVu Sans Condensed", "Liberation Sans", sans-serif' font-size="9.33" fill="#000" textLength="49.5" lengthAdjust="spacingAndGlyphs" xml:space="preserve" stroke="#000" stroke-width="0.22">9 Mar 16:17</text>
<rect x="506" y="762" width="1" height="5" fill="#000"/>
<text x="506" y="775" font-family='"DejaVu Sans Condensed", "Liberation Sans", sans-serif' font-size="9.33" fill="#000" textLength="49.5" lengthAdjust="spacingAndGlyphs" xml:space="preserve" stroke="#000" stroke-width="0.22">9 Mar 16:21</text>
<rect x="570" y="762" width="1" height="5" fill="#000"/>
<text x="570" y="775" font-family='"DejaVu Sans Condensed", "Liberation Sans", sans-serif' font-size="9.33" fill="#000" textLength="49.5" lengthAdjust="spacingAndGlyphs" xml:space="preserve" stroke="#000" stroke-width="0.22">9 Mar 16:25</text>
<rect x="634" y="762" width="1" height="5" fill="#000"/>
<text x="634" y="775" font-family='"DejaVu Sans Condensed", "Liberation Sans", sans-serif' font-size="9.33" fill="#000" textLength="49.5" lengthAdjust="spacingAndGlyphs" xml:space="preserve" stroke="#000" stroke-width="0.22">9 Mar 16:29</text>
<rect x="698" y="762" width="1" height="5" fill="#000"/>
<text x="698" y="775" font-family='"DejaVu Sans Condensed", "Liberation Sans", sans-serif' font-size="9.33" fill="#000" textLength="49.5" lengthAdjust="spacingAndGlyphs" xml:space="preserve" stroke="#000" stroke-width="0.22">9 Mar 16:33</text>
<rect x="762" y="762" width="1" height="5" fill="#000"/>
<text x="762" y="775" font-family='"DejaVu Sans Condensed", "Liberation Sans", sans-serif' font-size="9.33" fill="#000" textLength="49.5" lengthAdjust="spacingAndGlyphs" xml:space="preserve" stroke="#000" stroke-width="0.22">9 Mar 16:37</text>
<rect x="826" y="762" width="1" height="5" fill="#000"/>
<text x="826" y="775" font-family='"DejaVu Sans Condensed", "Liberation Sans", sans-serif' font-size="9.33" fill="#000" textLength="49.5" lengthAdjust="spacingAndGlyphs" xml:space="preserve" stroke="#000" stroke-width="0.22">9 Mar 16:41</text>
<rect x="890" y="762" width="1" height="5" fill="#000"/>
<text x="890" y="775" font-family='"DejaVu Sans Condensed", "Liberation Sans", sans-serif' font-size="9.33" fill="#000" textLength="49.5" lengthAdjust="spacingAndGlyphs" xml:space="preserve" stroke="#000" stroke-width="0.22">9 Mar 16:45</text>
<rect x="954" y="762" width="1" height="5" fill="#000"/>
<text x="954" y="775" font-family='"DejaVu Sans Condensed", "Liberation Sans", sans-serif' font-size="9.33" fill="#000" textLength="49.5" lengthAdjust="spacingAndGlyphs" xml:space="preserve" stroke="#000" stroke-width="0.22">9 Mar 16:49</text>
<rect x="1018" y="762" width="1" height="5" fill="#000"/>
<text x="1018" y="775" font-family='"DejaVu Sans Condensed", "Liberation Sans", sans-serif' font-size="9.33" fill="#000" textLength="49.5" lengthAdjust="spacingAndGlyphs" xml:space="preserve" stroke="#000" stroke-width="0.22">9 Mar 16:53</text>
<rect x="0" y="785" width="1288" height="19" fill="#f0f0f0"/>
<rect x="81" y="785" width="1207" height="1" fill="#000"/>
<rect x="0" y="784" width="81" height="19" fill="#fff"/>
<rect x="81" y="785" width="1" height="19" fill="#000"/>
<rect x="0" y="803" width="82" height="1" fill="#000"/>
<text x="6.3" y="799.3" font-family='"Liberation Sans", sans-serif' font-size="12.6" fill="#000" textLength="62.5" lengthAdjust="spacingAndGlyphs" xml:space="preserve" stroke="#000" stroke-width="0.15">MESH22,M1</text>
<text x="95.5" y="799.3" font-family='"Liberation Sans", sans-serif' font-size="12.6" fill="#7f7f7f" textLength="62.5" lengthAdjust="spacingAndGlyphs" xml:space="preserve">MESH22,M1</text>
<path d="M1262,791.5 L1262,799.5 L1258.500,795.5 Z" fill="#b0b0b0"/>
<path d="M1280,791.5 L1280,799.5 L1283.500,795.5 Z" fill="#b0b0b0"/>
<rect x="0" y="804" width="1288" height="78" fill="#fff"/>
<rect x="0" y="804" width="1288" height="2" fill="#f4f4f4"/>
<rect x="0" y="804" width="5" height="18" fill="#f0f0f0"/>
<rect x="0" y="822" width="5" height="60" fill="#d5e1ef"/>
<g clip-path="url(#cl)"><text transform="translate(9,858) rotate(-90)" text-anchor="end" font-family='"Liberation Sans", sans-serif' font-size="12" fill="#1c3f74">Инструменты</text></g>
<rect x="5" y="809" width="1283" height="1" fill="#a0a0a0"/>
<rect x="5" y="809" width="1" height="73" fill="#a0a0a0"/>
<rect x="131" y="810" width="1" height="24" fill="#dcdcdc"/>
<rect x="131" y="834" width="1" height="19" fill="#c4c4c4"/>
<rect x="218" y="810" width="1" height="24" fill="#dcdcdc"/>
<rect x="218" y="834" width="1" height="19" fill="#c4c4c4"/>
<rect x="286" y="810" width="1" height="24" fill="#dcdcdc"/>
<rect x="286" y="834" width="1" height="19" fill="#c4c4c4"/>
<rect x="344" y="810" width="1" height="24" fill="#dcdcdc"/>
<rect x="344" y="834" width="1" height="19" fill="#c4c4c4"/>
<rect x="441" y="810" width="1" height="24" fill="#dcdcdc"/>
<rect x="441" y="834" width="1" height="19" fill="#c4c4c4"/>
<rect x="538" y="810" width="1" height="24" fill="#dcdcdc"/>
<rect x="538" y="834" width="1" height="19" fill="#c4c4c4"/>
<rect x="635" y="810" width="1" height="24" fill="#dcdcdc"/>
<rect x="635" y="834" width="1" height="19" fill="#c4c4c4"/>
<rect x="732" y="810" width="1" height="24" fill="#dcdcdc"/>
<rect x="732" y="834" width="1" height="19" fill="#c4c4c4"/>
<rect x="872" y="810" width="1" height="24" fill="#dcdcdc"/>
<rect x="872" y="834" width="1" height="19" fill="#c4c4c4"/>
<rect x="969" y="810" width="1" height="24" fill="#dcdcdc"/>
<rect x="969" y="834" width="1" height="19" fill="#c4c4c4"/>
<rect x="1066" y="810" width="1" height="24" fill="#dcdcdc"/>
<rect x="1066" y="834" width="1" height="19" fill="#c4c4c4"/>
<rect x="1184" y="810" width="1" height="24" fill="#dcdcdc"/>
<rect x="1184" y="834" width="1" height="19" fill="#c4c4c4"/>
<text x="12.3" y="826" font-family='"Liberation Sans", sans-serif' font-size="12" fill="#000" textLength="34.4" lengthAdjust="spacingAndGlyphs" xml:space="preserve" stroke="#000" stroke-width="0.15">Время</text>
<path d="M65,824 L72,824 L68.500,820 Z" fill="#000"/>
<text x="170.0" y="826" font-family='"Liberation Sans", sans-serif' font-size="12" fill="#000" textLength="42.4" lengthAdjust="spacingAndGlyphs" xml:space="preserve" stroke="#000" stroke-width="0.15">Символ</text>
<text x="250.5" y="826" font-family='"Liberation Sans", sans-serif' font-size="12" fill="#000" textLength="30" lengthAdjust="spacingAndGlyphs" xml:space="preserve" stroke="#000" stroke-width="0.15">Тикет</text>
<text x="319.1" y="826" font-family='"Liberation Sans", sans-serif' font-size="12" fill="#000" textLength="19.4" lengthAdjust="spacingAndGlyphs" xml:space="preserve" stroke="#000" stroke-width="0.15">Тип</text>
<text x="398.2" y="826" font-family='"Liberation Sans", sans-serif' font-size="12" fill="#000" textLength="37.5" lengthAdjust="spacingAndGlyphs" xml:space="preserve" stroke="#000" stroke-width="0.15">Объем</text>
<text x="505.5" y="826" font-family='"Liberation Sans", sans-serif' font-size="12" fill="#000" textLength="27" lengthAdjust="spacingAndGlyphs" xml:space="preserve" stroke="#000" stroke-width="0.15">Цена</text>
<text x="607.0999999999999" y="826" font-family='"Liberation Sans", sans-serif' font-size="12" fill="#000" textLength="22.7" lengthAdjust="spacingAndGlyphs" xml:space="preserve" stroke="#000" stroke-width="0.15">S / L</text>
<text x="702.9" y="826" font-family='"Liberation Sans", sans-serif' font-size="12" fill="#000" textLength="23.4" lengthAdjust="spacingAndGlyphs" xml:space="preserve" stroke="#000" stroke-width="0.15">T / P</text>
<text x="832.5" y="826" font-family='"Liberation Sans", sans-serif' font-size="12" fill="#000" textLength="34" lengthAdjust="spacingAndGlyphs" xml:space="preserve" stroke="#000" stroke-width="0.15">Время</text>
<text x="936.5" y="826" font-family='"Liberation Sans", sans-serif' font-size="12" fill="#000" textLength="26.8" lengthAdjust="spacingAndGlyphs" xml:space="preserve" stroke="#000" stroke-width="0.15">Цена</text>
<text x="1033.6000000000001" y="826" font-family='"Liberation Sans", sans-serif' font-size="12" fill="#000" textLength="26.8" lengthAdjust="spacingAndGlyphs" xml:space="preserve" stroke="#000" stroke-width="0.15">Своп</text>
<text x="1127.6" y="826" font-family='"Liberation Sans", sans-serif' font-size="12" fill="#000" textLength="51" lengthAdjust="spacingAndGlyphs" xml:space="preserve" stroke="#000" stroke-width="0.15">Прибыль</text>
<text x="1223.7" y="826" font-family='"Liberation Sans", sans-serif' font-size="12" fill="#000" textLength="61.7" lengthAdjust="spacingAndGlyphs" xml:space="preserve" stroke="#000" stroke-width="0.15">ID эксперта</text>
<rect x="10.500" y="836.500" width="10" height="14" rx="2" fill="#fff" stroke="#1667b4" stroke-width="1"/>
<path d="M13.500,841.500 H17 M13.500,844.500 H17" stroke="#1667b4" stroke-width="1"/>
<text x="27" y="848" font-family='"Liberation Sans", sans-serif' font-size="12.2" fill="#000" textLength="98.8" lengthAdjust="spacingAndGlyphs" xml:space="preserve" stroke="#000" stroke-width="0.15">2022.03.09 16:51:09</text>
<text x="174.7" y="848" font-family='"Liberation Sans", sans-serif' font-size="12.2" fill="#000" textLength="40" lengthAdjust="spacingAndGlyphs" xml:space="preserve" stroke="#000" stroke-width="0.15">mesh22</text>
<text x="229.5" y="848" font-family='"Liberation Sans", sans-serif' font-size="12.2" fill="#000" textLength="53" lengthAdjust="spacingAndGlyphs" xml:space="preserve" stroke="#000" stroke-width="0.15">176812686</text>
<text x="321.7" y="848" font-family='"Liberation Sans", sans-serif' font-size="12.2" fill="#000" textLength="18.8" lengthAdjust="spacingAndGlyphs" xml:space="preserve" stroke="#000" stroke-width="0.15">buy</text>
<text x="431.9" y="848" font-family='"Liberation Sans", sans-serif' font-size="12.2" fill="#000" textLength="5.8" lengthAdjust="spacingAndGlyphs" xml:space="preserve" stroke="#000" stroke-width="0.15">2</text>
<text x="495.9" y="848" font-family='"Liberation Sans", sans-serif' font-size="12.2" fill="#000" textLength="39" lengthAdjust="spacingAndGlyphs" xml:space="preserve" stroke="#000" stroke-width="0.15">4268.25</text>
<text x="592.8" y="848" font-family='"Liberation Sans", sans-serif' font-size="12.2" fill="#000" textLength="39" lengthAdjust="spacingAndGlyphs" xml:space="preserve" stroke="#000" stroke-width="0.15">4248.25</text>
<text x="770.0" y="848" font-family='"Liberation Sans", sans-serif' font-size="12.2" fill="#000" textLength="98.8" lengthAdjust="spacingAndGlyphs" xml:space="preserve" stroke="#000" stroke-width="0.15">2022.03.09 16:53:24</text>
<text x="926.9" y="848" font-family='"Liberation Sans", sans-serif' font-size="12.2" fill="#000" textLength="39" lengthAdjust="spacingAndGlyphs" xml:space="preserve" stroke="#000" stroke-width="0.15">4272.50</text>
<text x="1154.6" y="848" font-family='"Liberation Sans", sans-serif' font-size="12.2" fill="#0000ff" textLength="26" lengthAdjust="spacingAndGlyphs" xml:space="preserve" stroke="#0000ff" stroke-width="0.15">38.39</text>
<text x="1264.1" y="848" font-family='"Liberation Sans", sans-serif' font-size="12.2" fill="#000" textLength="23.4" lengthAdjust="spacingAndGlyphs" xml:space="preserve" stroke="#000" stroke-width="0.15">1111</text>
<rect x="6" y="853" width="1282" height="21" fill="#c8c8c8"/>
<circle cx="15.500" cy="863.500" r="5" fill="none" stroke="#000" stroke-width="1"/>
<path d="M12.500,863.500 H18.500 M15.500,860.500 V866.500" stroke="#000" stroke-width="1"/>
<text x="27.3" y="868" font-family='"Liberation Sans", sans-serif' font-size="12" fill="#000" font-weight="bold" textLength="438.2" lengthAdjust="spacingAndGlyphs" xml:space="preserve">Прибыль: 36.69  Кредит: 0.00  Пополнение: 0.00  Снятие: 0.00  Баланс: 36.69</text>
<text x="1039" y="868" font-family='"Liberation Serif", serif' font-size="13.6" fill="#000" font-weight="bold" textLength="23" lengthAdjust="spacingAndGlyphs" xml:space="preserve">0.00</text>
<text x="1150.2" y="868" font-family='"Liberation Serif", serif' font-size="13.6" fill="#000" font-weight="bold" textLength="30" lengthAdjust="spacingAndGlyphs" xml:space="preserve">38.39</text>
<line x1="1073" y1="317" x2="1023.94" y2="162.89" stroke="#ed1c24" stroke-width="2"/>
<polygon points="1020,150.5 1031.22,162.67 1017.88,166.92" fill="#ed1c24"/>
<line x1="1073" y1="317" x2="1000.02" y2="227.59" stroke="#ed1c24" stroke-width="4.2"/>
<polygon points="989.9,215.2 1007.29,224.24 995.28,234.04" fill="#ed1c24"/>
<circle cx="1073" cy="317" r="6.2" fill="#ed1c24"/>
</svg>
</body>
</html>
